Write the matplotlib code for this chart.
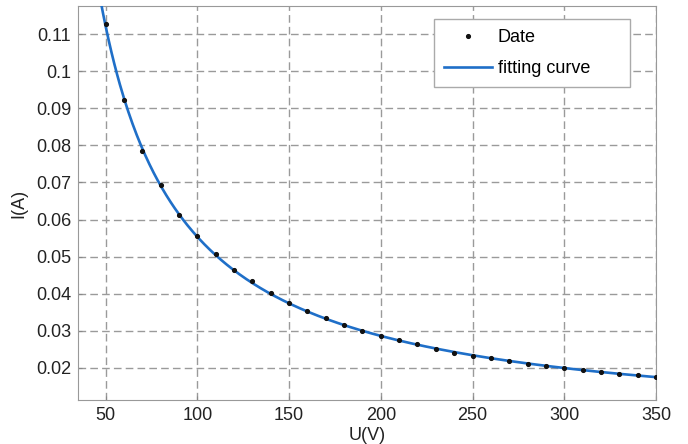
import numpy as np
import matplotlib
matplotlib.use("Agg")
import matplotlib.pyplot as plt

plt.rcParams['font.family'] = ['Liberation Sans', 'DejaVu Sans']

U = [50, 60, 70, 80, 90, 100, 110, 120, 130, 140, 150, 160, 170, 180, 190, 200,
     210, 220, 230, 240, 250, 260, 270, 280, 290, 300, 310, 320, 330, 340, 350]
I = [0.1128, 0.0922, 0.0785, 0.0694, 0.0612, 0.0555, 0.0506, 0.0465, 0.0433, 0.0401,
     0.0374, 0.0352, 0.0333, 0.0315, 0.0300, 0.0286, 0.0275, 0.0263, 0.0251, 0.0241,
     0.0233, 0.0226, 0.0217, 0.0211, 0.0206, 0.0199, 0.0194, 0.0188, 0.0182, 0.0180, 0.0174]
xticks = [50, 100, 150, 200, 250, 300, 350]
yticks = [0.02, 0.03, 0.04, 0.05, 0.06, 0.07, 0.08, 0.09, 0.1, 0.11]
ytick_labels = ['0.02', '0.03', '0.04', '0.05', '0.06', '0.07', '0.08', '0.09', '0.1', '0.11']

# least-squares fit I = c0 + c1/U + c2/U^2
invU = 1.0 / np.asarray(U, dtype=float)
coef = np.polyfit(invU, I, 2)
Uf = np.linspace(44, 350, 400)
If = np.polyval(coef, 1.0 / Uf)

fig = plt.figure(figsize=(6.88, 4.44), dpi=100)
ax = fig.add_axes([0.1134, 0.099, 0.8401, 0.8875])

ax.plot(Uf, If, color='#1f6fc8', lw=1.9, label='fitting curve', zorder=3)
ax.plot(U, I, 'o', color='#111111', ms=2.7, label='Date', zorder=4)

ax.set_xlim(35, 350)
ax.set_ylim(0.0113, 0.1176)
ax.set_xticks(xticks)
ax.set_yticks(yticks)
ax.set_yticklabels(ytick_labels)
ax.tick_params(labelsize=13, direction='in', length=3, color='#888888',
               labelcolor='#222222', pad=5)
ax.grid(True, color='#9a9a9a', ls=(0, (5.5, 3)), lw=1)
for s in ax.spines.values():
    s.set_color('#999999')

ax.set_xlabel('U(V)', fontsize=13, labelpad=2, color='#222222')
ax.set_ylabel('I(A)', fontsize=13, labelpad=6, color='#222222')

h, l = ax.get_legend_handles_labels()
leg = ax.legend([h[1], h[0]], [l[1], l[0] + '      '], loc='upper right',
                bbox_to_anchor=(0.955, 0.966),
                fontsize=13, fancybox=False, edgecolor='#aaaaaa', framealpha=1,
                handlelength=2.7, handletextpad=0.3, borderpad=0.55, labelspacing=0.75,
                borderaxespad=0)
leg.get_frame().set_linewidth(1)

fig.savefig('out.png', dpi=100)
